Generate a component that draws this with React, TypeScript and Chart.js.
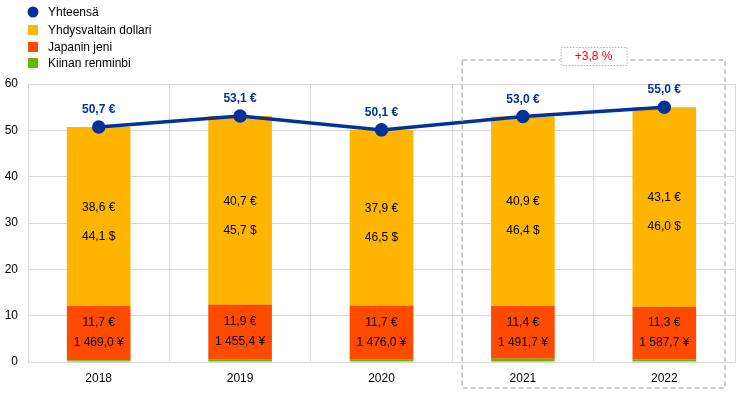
import React, { useEffect, useRef } from "react";
import { Chart, registerables } from "chart.js";

Chart.register(...registerables);

const years = ["2018", "2019", "2020", "2021", "2022"];
const totalEur = [50.7, 53.1, 50.1, 53.0, 55.0];
const usdEur = [38.6, 40.7, 37.9, 40.9, 43.1];
const jpyEur = [11.7, 11.9, 11.7, 11.4, 11.3];
const cnyEur = [0.4, 0.5, 0.5, 0.7, 0.6];
const usdNative = ["44,1 $", "45,7 $", "46,5 $", "46,4 $", "46,0 $"];
const jpyNative = ["1 469,0 ¥", "1 455,4 ¥", "1 476,0 ¥", "1 491,7 ¥", "1 587,7 ¥"];
const changeLabel = "+3,8 %";
const yTicks = [0, 10, 20, 30, 40, 50, 60];

const legendItems = [
  { label: "Yhteensä", color: "#003299", circle: true },
  { label: "Yhdysvaltain dollari", color: "#FFB400", circle: false },
  { label: "Japanin jeni", color: "#FF4B00", circle: false },
  { label: "Kiinan renminbi", color: "#65B800", circle: false },
];

const FONT = "Arial, 'Liberation Sans', sans-serif";
const fmt = (v: number) => v.toFixed(1).replace(".", ",") + " €";

const overlayPlugin = {
  id: "overlay",
  afterDraw(chart: any) {
    const ctx = chart.ctx as CanvasRenderingContext2D;
    const x = chart.scales.x;
    const y = chart.scales.y;
    ctx.save();
    // legend
    ctx.font = `12px ${FONT}`;
    ctx.textBaseline = "middle";
    ctx.textAlign = "left";
    const rows = [12, 30, 47, 63];
    legendItems.forEach((it, i) => {
      ctx.fillStyle = it.color;
      if (it.circle) {
        ctx.beginPath();
        ctx.arc(33, rows[i], 5.5, 0, Math.PI * 2);
        ctx.fill();
      } else {
        ctx.fillRect(28, rows[i] - 5, 10, 10);
      }
      ctx.fillStyle = "#000";
      ctx.fillText(it.label, 48, rows[i] + 1);
    });

    // bar labels
    ctx.textAlign = "center";
    ctx.fillStyle = "#000";
    ctx.font = `12px ${FONT}`;
    years.forEach((_, i) => {
      const cx = x.getPixelForValue(i);
      const base = cnyEur[i] + jpyEur[i];
      const yMid = y.getPixelForValue(base + usdEur[i] / 2);
      ctx.fillText(fmt(usdEur[i]), cx, yMid - 9);
      ctx.fillText(usdNative[i], cx, yMid + 20);
      const rMid = y.getPixelForValue(cnyEur[i] + jpyEur[i] / 2);
      ctx.fillText(fmt(jpyEur[i]), cx, rMid - 10);
      ctx.fillText(jpyNative[i], cx, rMid + 10);
      // total labels
      ctx.fillStyle = "#003299";
      ctx.font = `bold 12px ${FONT}`;
      ctx.fillText(fmt(totalEur[i]), cx, y.getPixelForValue(totalEur[i]) - 17);
      ctx.fillStyle = "#000";
      ctx.font = `12px ${FONT}`;
    });

    // dashed highlight box
    const step = x.getPixelForValue(1) - x.getPixelForValue(0);
    const left = x.getPixelForValue(3) - step / 2 + 10;
    const right = x.getPixelForValue(4) + step / 2 - 10;
    const top = chart.chartArea.top - 24;
    const bottom = chart.chartArea.bottom + 26;
    ctx.strokeStyle = "#bdbdbd";
    ctx.lineWidth = 1.5;
    ctx.setLineDash([5, 3]);
    ctx.strokeRect(left, top, right - left, bottom - top);
    // label box
    const mid = (x.getPixelForValue(3) + x.getPixelForValue(4)) / 2;
    const bw = 66;
    const bh = 18;
    ctx.setLineDash([1.5, 1.5]);
    ctx.lineWidth = 1;
    ctx.fillStyle = "#fff";
    ctx.fillRect(mid - bw / 2, top - bh / 2 - 4, bw, bh);
    ctx.strokeStyle = "#b0b0b0";
    ctx.strokeRect(mid - bw / 2 + 0.5, top - bh / 2 - 4 + 0.5, bw, bh);
    ctx.setLineDash([]);
    ctx.fillStyle = "#FF0000";
    ctx.font = `12px ${FONT}`;
    ctx.textBaseline = "middle";
    ctx.fillText(changeLabel, mid, top - 4 + 1);
    ctx.restore();
  },
};

export default function App() {
  const ref = useRef<HTMLCanvasElement>(null);
  useEffect(() => {
    document.body.style.margin = "0";
    const chart = new Chart(ref.current!, {
      data: {
        labels: years,
        datasets: [
          {
            type: "line",
            label: "Yhteensä",
            data: totalEur,
            borderColor: "#003299",
            backgroundColor: "#003299",
            borderWidth: 3.5,
            pointRadius: 5,
            pointHoverRadius: 5,
            stack: "total",
            order: 0,
          } as any,
          {
            type: "bar",
            label: "Kiinan renminbi",
            data: cnyEur,
            backgroundColor: "#65B800",
            stack: "bars",
            barPercentage: 0.9,
            categoryPercentage: 0.5,
            order: 1,
          },
          {
            type: "bar",
            label: "Japanin jeni",
            data: jpyEur,
            backgroundColor: "#FF4B00",
            stack: "bars",
            barPercentage: 0.9,
            categoryPercentage: 0.5,
            order: 1,
          },
          {
            type: "bar",
            label: "Yhdysvaltain dollari",
            data: usdEur,
            backgroundColor: "#FFB400",
            stack: "bars",
            barPercentage: 0.9,
            categoryPercentage: 0.5,
            order: 1,
          },
        ],
      },
      options: {
        animation: false,
        responsive: false,
        maintainAspectRatio: false,
        layout: { padding: { top: 84, right: 9, left: 0, bottom: 0 } },
        plugins: { legend: { display: false }, tooltip: { enabled: false } },
        scales: {
          x: {
            stacked: true,
            offset: true,
            grid: { offset: true, color: "#d9d9d9", lineWidth: 1, drawTicks: false },
            border: { color: "#d9d9d9" },
            ticks: { color: "#000", font: { family: FONT, size: 12 }, padding: 9 },
            afterFit: (s: any) => {
              s.height = 31;
            },
          },
          y: {
            stacked: true,
            min: 0,
            max: 60,
            afterBuildTicks: (s: any) => {
              s.ticks = yTicks.map((v) => ({ value: v }));
            },
            grid: { color: "#d9d9d9", lineWidth: 1, drawTicks: false },
            border: { display: false },
            ticks: { color: "#000", font: { family: FONT, size: 12 }, padding: 10 },
            afterFit: (s: any) => {
              s.width = 28;
            },
          },
        },
      },
      plugins: [overlayPlugin],
    });
    return () => chart.destroy();
  }, []);
  return (
    <div style={{ position: "absolute", left: 0, top: 0, width: 744, height: 393 }}>
      <canvas ref={ref} width={744} height={393} style={{ width: 744, height: 393 }} />
    </div>
  );
}
